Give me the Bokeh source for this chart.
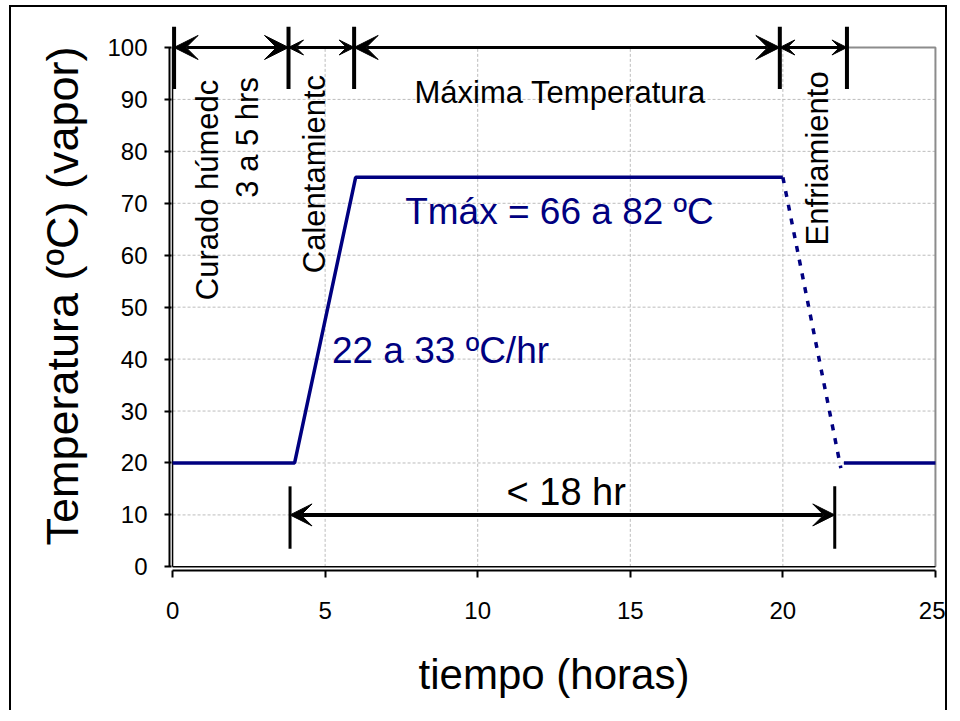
import math
from bokeh.plotting import figure
from bokeh.models import Range1d, FixedTicker, Arrow, VeeHead
from bokeh.core.properties import value
from bokeh.embed import file_html
from bokeh.resources import INLINE

# ---- data ----
profile_x = [0, 4, 6, 20]          # horas
profile_y = [20, 20, 75, 75]       # ºC
cooling_x = [20, 21.9]
cooling_y = [75, 19]
final_x = [22, 25]
final_y = [20, 20]

x_ticks = [0, 5, 10, 15, 20, 25]
y_ticks = [0, 10, 20, 30, 40, 50, 60, 70, 80, 90, 100]

# phase boundaries (top) and duration span (bottom)
phase_bounds = [0.05, 3.8, 5.95, 19.9, 22.1]
phase_arrow_y = 100
phase_bar_y = [92, 104]
span_bounds = [3.85, 21.7]
span_arrow_y = 10
span_bar_y = [3.5, 15.5]

phase_labels = ["Curado húmedc", "3 a 5 hrs", "Calentamientc", "Enfriamiento"]
phase_label_x = [1.15, 2.45, 4.65, 21.15]
phase_label_top = [93.8, 94.3, 94.7, 95.4]

FONT = "Liberation Sans"
NAVY = "#000080"

p = figure(frame_width=769, frame_height=549,
           min_border_left=158, min_border_top=14,
           min_border_right=7, min_border_bottom=140,
           x_range=Range1d(-0.1, 25.1), y_range=Range1d(-0.7, 105),
           output_backend="svg", toolbar_location=None,
           background_fill_color="white", border_fill_color="white")
p.outline_line_color = None
p.styles = {"border-left": "2px solid black", "border-top": "2px solid black",
            "border-right": "2px solid black", "margin": "5px 0px 0px 9px"}
p.xgrid.visible = False
p.ygrid.visible = False

# grid (dotted light gray), limited to the plot area 0..25 x 0..100
p.segment(x0=x_ticks[1:], y0=[0] * (len(x_ticks) - 1), x1=x_ticks[1:], y1=[100] * (len(x_ticks) - 1),
          line_color="#bcbcbc", line_width=1, line_dash="3 2")
p.segment(x0=[0] * (len(y_ticks) - 1), y0=y_ticks[1:], x1=[25] * (len(y_ticks) - 1), y1=y_ticks[1:],
          line_color="#bcbcbc", line_width=1, line_dash="3 2")
# plot-area border (top & right gray), inner black lines for double axes
p.line(x=[0, 25, 25], y=[100, 100, 0], line_color="#8c8c8c", line_width=2)
p.line(x=[0, 0], y=[0, 100], line_color="black", line_width=1.5)
p.line(x=[0, 25], y=[0, 0], line_color="black", line_width=1.5)

# axes
for ax in (p.xaxis[0], p.yaxis[0]):
    ax.axis_line_color = "black"
    ax.axis_line_width = 2
    ax.major_tick_line_color = "black"
    ax.major_tick_line_width = 2
    ax.minor_tick_line_color = None
    ax.major_label_text_font = FONT
    ax.major_label_text_font_size = "24px"
    ax.major_label_text_color = "black"
    ax.axis_label_text_font = FONT
    ax.axis_label_text_font_style = "normal"
    ax.axis_label_text_color = "black"

p.xaxis.ticker = FixedTicker(ticks=x_ticks)
p.yaxis.ticker = FixedTicker(ticks=y_ticks)
p.xaxis.bounds = (0, 25)
p.yaxis.bounds = (0, 100)
p.xaxis.major_tick_out = 7
p.xaxis.major_tick_in = 0
p.yaxis.major_tick_out = 5
p.yaxis.major_tick_in = 2
p.xaxis.major_label_standoff = 24
p.yaxis.major_label_standoff = 17
p.xaxis.axis_label = "tiempo (horas)"
p.yaxis.axis_label = "Temperatura (ºC) (vapor)"
p.xaxis.axis_label_text_font_size = "42px"
p.yaxis.axis_label_text_font_size = "45px"
p.xaxis.axis_label_standoff = 29
p.yaxis.axis_label_standoff = 16

# temperature profile
p.line(profile_x, profile_y, line_color=NAVY, line_width=3.5)
p.line(cooling_x, cooling_y, line_color=NAVY, line_width=3.5, line_dash="6 8")
p.line(final_x, final_y, line_color=NAVY, line_width=3.5)

# phase boundary bars and arrows
p.segment(x0=phase_bounds, y0=[phase_bar_y[0]] * len(phase_bounds),
          x1=phase_bounds, y1=[phase_bar_y[1]] * len(phase_bounds),
          line_color="black", line_width=4)
for i in range(len(phase_bounds) - 1):
    long_ = (phase_bounds[i + 1] - phase_bounds[i]) > 3
    sz = 24 if long_ else 15
    p.add_layout(Arrow(x_start=phase_bounds[i], y_start=phase_arrow_y,
                       x_end=phase_bounds[i + 1], y_end=phase_arrow_y,
                       line_color="black", line_width=3,
                       start=VeeHead(size=sz, fill_color="black", line_color="black"),
                       end=VeeHead(size=sz, fill_color="black", line_color="black")))

p.segment(x0=span_bounds, y0=[span_bar_y[0]] * 2, x1=span_bounds, y1=[span_bar_y[1]] * 2,
          line_color="black", line_width=3)
p.add_layout(Arrow(x_start=span_bounds[0], y_start=span_arrow_y,
                   x_end=span_bounds[1], y_end=span_arrow_y,
                   line_color="black", line_width=4,
                   start=VeeHead(size=22, fill_color="black", line_color="black"),
                   end=VeeHead(size=22, fill_color="black", line_color="black")))

# rotated phase labels
p.text(x=phase_label_x, y=phase_label_top, text=phase_labels, angle=math.pi / 2,
       text_align="right", text_baseline="middle",
       text_font=value(FONT), text_font_size="31px", text_color="black")

# horizontal labels
p.text(x=[12.7], y=[91.3], text=["Máxima Temperatura"], text_align="center",
       text_baseline="middle", text_font=value(FONT), text_font_size="31px", text_color="black")
p.text(x=[12.9], y=[14.5], text=["< 18 hr"], text_align="center",
       text_baseline="middle", text_font=value(FONT), text_font_size="38px", text_color="black")
p.text(x=[12.68], y=[68.4], text=["Tmáx = 66 a 82 ºC"], text_align="center",
       text_baseline="middle", text_font=value(FONT), text_font_size="37px", text_color=NAVY)
p.text(x=[8.78], y=[41.6], text=["22 a 33 ºC/hr"], text_align="center",
       text_baseline="middle", text_font=value(FONT), text_font_size="37px", text_color=NAVY)

open("out.html", "w").write(file_html(p, INLINE))
